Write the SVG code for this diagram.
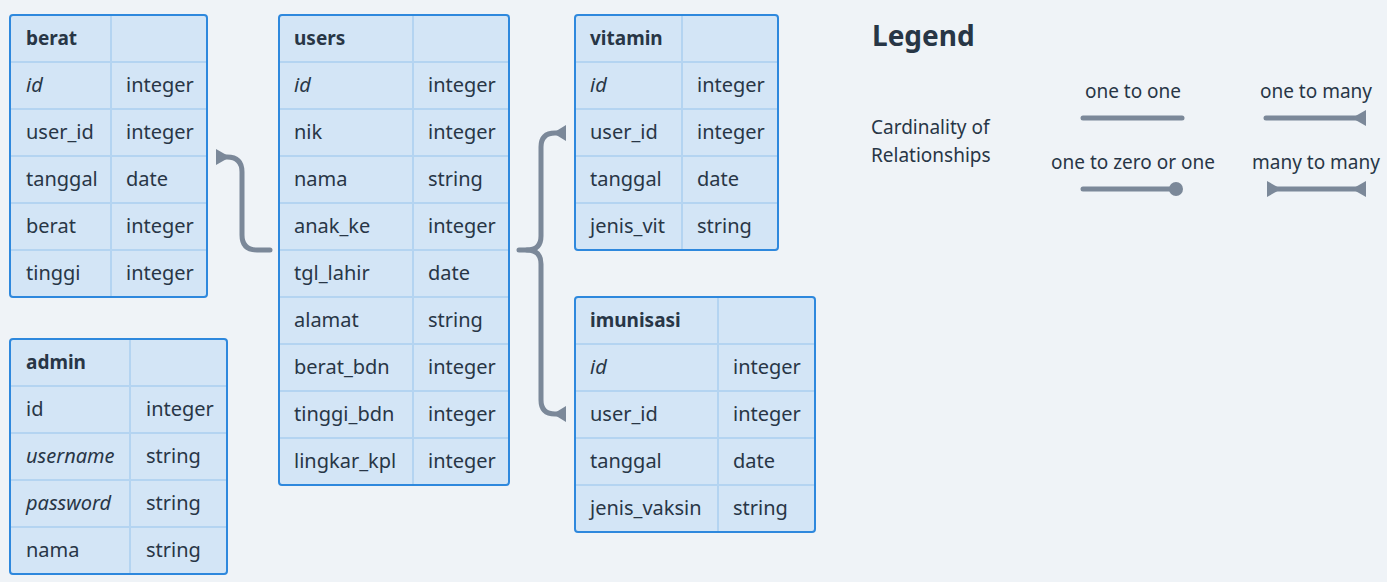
<svg xmlns="http://www.w3.org/2000/svg" width="1387" height="582" viewBox="0 0 1387 582">
<defs>
<style>
text{font-family:"Noto Sans","Open Sans","DejaVu Sans",sans-serif;fill:#283646;font-size:20px}
.h{font-weight:bold;font-size:19px}
.i{font-style:italic}
.tbl{fill:#d3e5f6;stroke:#2e88dd;stroke-width:2}
.div{stroke:#b4d4f1;stroke-width:2;fill:none}
.conn{fill:none;stroke:#7b8899;stroke-width:5;stroke-linecap:round;stroke-linejoin:round}
.tri{fill:#7b8899}
.lg{font-size:28px;font-weight:bold}
.lt{font-size:19px}
</style>
</defs>
<rect width="1387" height="582" fill="#eff3f7"/>

<g id="connectors">
<path class="conn" d="M270 250 H257 Q242 250 242 235 V172 Q242 157 227 157 H222"/>
<polygon class="tri" points="216,149 216,165 230,157"/>
<path class="conn" d="M519 250 H527 Q541 250 541 236 V147 Q541 133 555 133 H563"/>
<polygon class="tri" points="566,125 566,141 553,133"/>
<path class="conn" d="M527 250 Q541 250 541 264 V400 Q541 414 555 414 H563"/>
<polygon class="tri" points="566,406 566,422 553,414"/>
</g>

<g id="berat">
<rect class="tbl" x="10" y="15" width="197" height="282" rx="3"/>
<path class="div" d="M111 16 V296 M11 62 H206 M11 109 H206 M11 156 H206 M11 203 H206 M11 250 H206"/>
<text class="h" x="26" y="45">berat</text>
<text class="i" x="26" y="92">id</text><text x="126" y="92">integer</text>
<text x="26" y="139">user_id</text><text x="126" y="139">integer</text>
<text x="26" y="186">tanggal</text><text x="126" y="186">date</text>
<text x="26" y="233">berat</text><text x="126" y="233">integer</text>
<text x="26" y="280">tinggi</text><text x="126" y="280">integer</text>
</g>

<g id="users">
<rect class="tbl" x="279" y="15" width="230" height="470" rx="3"/>
<path class="div" d="M413 16 V484 M280 62 H508 M280 109 H508 M280 156 H508 M280 203 H508 M280 250 H508 M280 297 H508 M280 344 H508 M280 391 H508 M280 438 H508"/>
<text class="h" x="294" y="45">users</text>
<text class="i" x="294" y="92">id</text><text x="428" y="92">integer</text>
<text x="294" y="139">nik</text><text x="428" y="139">integer</text>
<text x="294" y="186">nama</text><text x="428" y="186">string</text>
<text x="294" y="233">anak_ke</text><text x="428" y="233">integer</text>
<text x="294" y="280">tgl_lahir</text><text x="428" y="280">date</text>
<text x="294" y="327">alamat</text><text x="428" y="327">string</text>
<text x="294" y="374">berat_bdn</text><text x="428" y="374">integer</text>
<text x="294" y="421">tinggi_bdn</text><text x="428" y="421">integer</text>
<text x="294" y="468">lingkar_kpl</text><text x="428" y="468">integer</text>
</g>

<g id="vitamin">
<rect class="tbl" x="575" y="15" width="203" height="235" rx="3"/>
<path class="div" d="M682 16 V249 M576 62 H777 M576 109 H777 M576 156 H777 M576 203 H777"/>
<text class="h" x="590" y="45">vitamin</text>
<text class="i" x="590" y="92">id</text><text x="697" y="92">integer</text>
<text x="590" y="139">user_id</text><text x="697" y="139">integer</text>
<text x="590" y="186">tanggal</text><text x="697" y="186">date</text>
<text x="590" y="233">jenis_vit</text><text x="697" y="233">string</text>
</g>

<g id="imunisasi">
<rect class="tbl" x="575" y="297" width="240" height="235" rx="3"/>
<path class="div" d="M718 298 V531 M576 344 H814 M576 391 H814 M576 438 H814 M576 485 H814"/>
<text class="h" x="590" y="327">imunisasi</text>
<text class="i" x="590" y="374">id</text><text x="733" y="374">integer</text>
<text x="590" y="421">user_id</text><text x="733" y="421">integer</text>
<text x="590" y="468">tanggal</text><text x="733" y="468">date</text>
<text x="590" y="515">jenis_vaksin</text><text x="733" y="515">string</text>
</g>

<g id="admin">
<rect class="tbl" x="10" y="339" width="217" height="235" rx="3"/>
<path class="div" d="M130 340 V573 M11 386 H226 M11 433 H226 M11 480 H226 M11 527 H226"/>
<text class="h" x="26" y="369">admin</text>
<text x="26" y="416">id</text><text x="146" y="416">integer</text>
<text class="i" x="26" y="463">username</text><text x="146" y="463">string</text>
<text class="i" x="26" y="510">password</text><text x="146" y="510">string</text>
<text x="26" y="557">nama</text><text x="146" y="557">string</text>
</g>

<g id="legend">
<text class="lg" x="872" y="46">Legend</text>
<text class="lt" x="871" y="134">Cardinality of</text>
<text class="lt" x="871" y="162">Relationships</text>
<text class="lt" x="1133" y="98" text-anchor="middle">one to one</text>
<text class="lt" x="1316" y="98" text-anchor="middle">one to many</text>
<text class="lt" x="1133" y="169" text-anchor="middle">one to zero or one</text>
<text class="lt" x="1316" y="169" text-anchor="middle">many to many</text>
<path class="conn" d="M1083 118 H1182"/>
<path class="conn" d="M1266 118 H1360"/>
<polygon class="tri" points="1366,110 1366,126 1352,118"/>
<path class="conn" d="M1083 189 H1176"/>
<circle class="tri" cx="1176" cy="189" r="7"/>
<path class="conn" d="M1272 189 H1360"/>
<polygon class="tri" points="1267,181 1267,197 1281,189"/>
<polygon class="tri" points="1366,181 1366,197 1352,189"/>
</g>
</svg>
